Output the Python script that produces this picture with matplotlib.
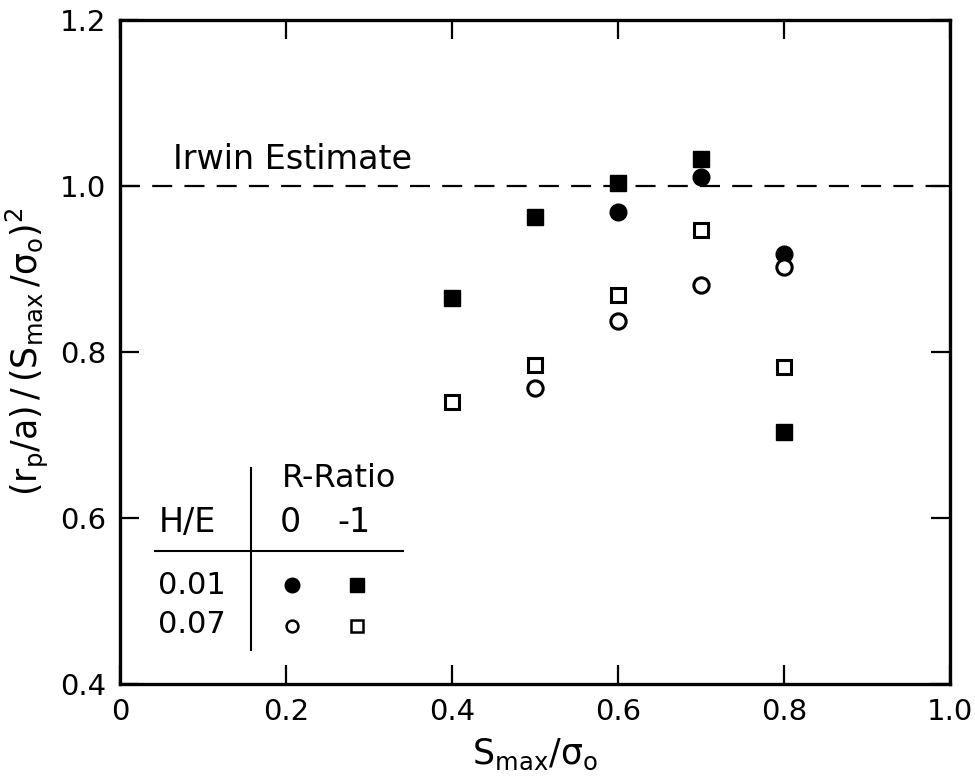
import matplotlib
matplotlib.use("Agg")
import matplotlib.pyplot as plt

plt.rcParams["font.family"] = ["DejaVu Sans"]
plt.rcParams["mathtext.fontset"] = "dejavusans"

# S_max / sigma_o
x_vals = [0.4, 0.5, 0.6, 0.7, 0.8]

# H/E = 0.01
hard_r0_x = [0.6, 0.7, 0.8]
hard_r0_y = [0.969, 1.011, 0.918]
hard_rm1_x = [0.4, 0.5, 0.6, 0.7, 0.8]
hard_rm1_y = [0.865, 0.963, 1.004, 1.033, 0.704]

# H/E = 0.07
soft_r0_x = [0.5, 0.6, 0.7, 0.8]
soft_r0_y = [0.757, 0.837, 0.881, 0.903]
soft_rm1_x = [0.4, 0.5, 0.6, 0.7, 0.8]
soft_rm1_y = [0.740, 0.784, 0.869, 0.947, 0.782]

irwin_value = 1.0

x_ticks = [0, 0.2, 0.4, 0.6, 0.8, 1.0]
x_tick_labels = ["0", "0.2", "0.4", "0.6", "0.8", "1.0"]
y_ticks = [0.4, 0.6, 0.8, 1.0, 1.2]
y_tick_labels = ["0.4", "0.6", "0.8", "1.0", "1.2"]

fig = plt.figure(figsize=(9.75, 7.82), dpi=100)
ax = fig.add_axes([120 / 975, 1 - 684 / 782, 830 / 975, 664 / 782])

ax.set_xlim(0, 1.0)
ax.set_ylim(0.4, 1.2)

# Irwin estimate reference line
ax.plot([0, 1.0], [irwin_value, irwin_value], color="black", lw=1.6,
        dashes=(9, 5.5), zorder=1)
ax.text(0.064, 1.012, "Irwin Estimate", fontsize=24, ha="left", va="bottom")

ms = 12
mew = 2.2
ax.plot(hard_rm1_x, hard_rm1_y, ls="none", marker="s", ms=ms - 1, mfc="black",
        mec="black", zorder=3)
ax.plot(hard_r0_x, hard_r0_y, ls="none", marker="o", ms=ms, mfc="black",
        mec="black", zorder=3)
ax.plot(soft_rm1_x, soft_rm1_y, ls="none", marker="s", ms=ms - 1.5, mfc="white",
        mec="black", mew=mew, zorder=4)
ax.plot(soft_r0_x, soft_r0_y, ls="none", marker="o", ms=ms - 1, mfc="white",
        mec="black", mew=mew, zorder=4)

# Key table in the lower-left corner
ax.plot([0.158, 0.158], [0.441, 0.660], color="black", lw=1.5)
ax.plot([0.042, 0.341], [0.560, 0.560], color="black", lw=1.5)
ax.text(0.264, 0.648, "R-Ratio", fontsize=23, ha="center", va="center")
ax.text(0.081, 0.595, "H/E", fontsize=24, ha="center", va="center")
ax.text(0.205, 0.595, "0", fontsize=24, ha="center", va="center")
ax.text(0.282, 0.595, "-1", fontsize=24, ha="center", va="center")
ax.text(0.086, 0.519, "0.01", fontsize=22, ha="center", va="center")
ax.text(0.086, 0.472, "0.07", fontsize=22, ha="center", va="center")
ax.plot([0.207], [0.519], ls="none", marker="o", ms=10.5, mfc="black", mec="black")
ax.plot([0.286], [0.519], ls="none", marker="s", ms=9.5, mfc="black", mec="black")
ax.plot([0.207], [0.470], ls="none", marker="o", ms=8.5, mfc="white", mec="black", mew=1.8)
ax.plot([0.286], [0.470], ls="none", marker="s", ms=8, mfc="white", mec="black", mew=1.8)

ax.set_xticks(x_ticks)
ax.set_xticklabels(x_tick_labels)
ax.set_yticks(y_ticks)
ax.set_yticklabels(y_tick_labels)
ax.tick_params(direction="in", length=14, width=1.6, labelsize=21,
               top=True, right=True, pad=10)
for s in ax.spines.values():
    s.set_linewidth(2.4)

ax.set_xlabel(r"$\mathregular{S_{max}/\sigma_o}$", fontsize=25, labelpad=8)
ax.set_ylabel(r"$\mathregular{(r_p/a)\,/\,(S_{max}\,/\sigma_o)^2}$", fontsize=25,
              labelpad=6)

fig.savefig("out.png", dpi=100)
